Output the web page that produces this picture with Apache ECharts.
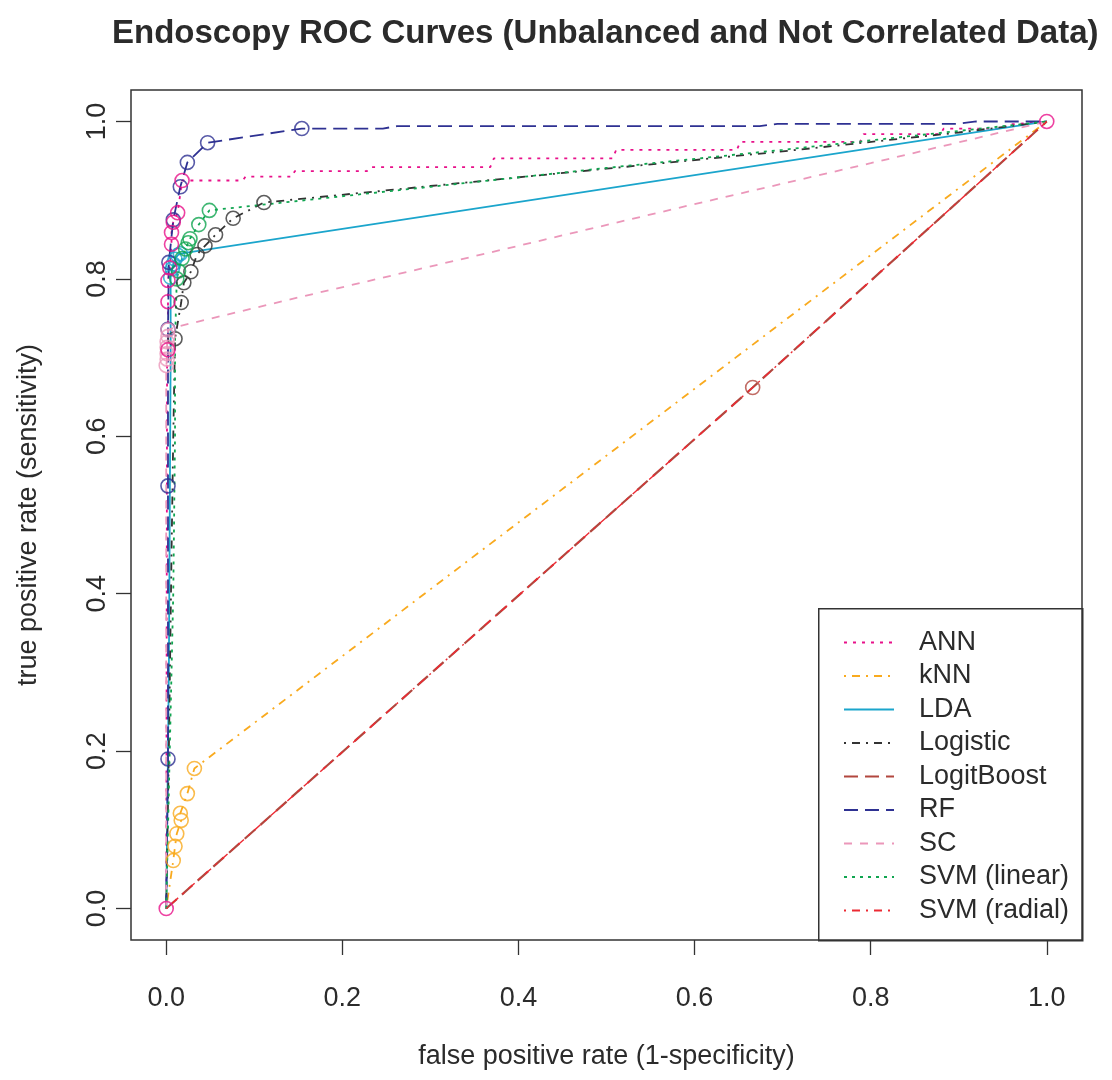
<!DOCTYPE html>
<html>
<head>
<meta charset="utf-8">
<script src="https://cdn.jsdelivr.net/npm/echarts@6/dist/echarts.min.js"></script>
<style>
html,body{margin:0;padding:0;background:#fff;}
#chart{width:1112px;height:1080px;}
</style>
</head>
<body>
<div id="chart"></div>
<script>
// ---------- data (false positive rate, true positive rate) ----------
const seriesNames = ['ANN','kNN','LDA','Logistic','LogitBoost','RF','SC','SVM (linear)','SVM (radial)'];
const tickValues = [0, 0.2, 0.4, 0.6, 0.8, 1.0];

const annCurve = [[0,0],[0.001,0.70],[0.002,0.710],[0.002,0.771],[0.002,0.798],[0.004,0.814],[0.006,0.844],[0.006,0.859],[0.008,0.872],[0.013,0.884],[0.018,0.925],[0.087,0.925],[0.090,0.930],[0.143,0.930],[0.146,0.937],[0.228,0.937],[0.232,0.942],[0.368,0.942],[0.372,0.953],[0.507,0.953],[0.511,0.964],[0.648,0.964],[0.652,0.974],[0.788,0.974],[0.792,0.984],[0.879,0.984],[0.883,0.991],[0.950,0.991],[0.955,0.996],[1,1]];
const annMarks = [[0,0],[0.002,0.710],[0.002,0.771],[0.002,0.798],[0.004,0.814],[0.006,0.844],[0.006,0.859],[0.008,0.872],[0.013,0.884],[0.018,0.925],[1,1]];

const knnCurve = [[0,0],[0.008,0.061],[0.010,0.079],[0.012,0.095],[0.017,0.112],[0.016,0.121],[0.024,0.146],[0.032,0.178],[1,1]];
const knnMarks = [[0.008,0.061],[0.010,0.079],[0.012,0.095],[0.017,0.112],[0.016,0.121],[0.024,0.146],[0.032,0.178]];

const ldaCurve = [[0,0],[0.003,0.30],[0.005,0.70],[0.005,0.802],[0.007,0.813],[0.008,0.819],[0.010,0.825],[0.013,0.830],[0.016,0.832],[1,1]];
const ldaMarks = [[0.005,0.802],[0.007,0.813],[0.008,0.819],[0.010,0.825],[0.013,0.830],[0.016,0.832]];

const logisticCurve = [[0,0],[0.003,0.20],[0.006,0.45],[0.008,0.60],[0.010,0.724],[0.017,0.770],[0.020,0.795],[0.028,0.809],[0.035,0.831],[0.044,0.842],[0.056,0.856],[0.076,0.877],[0.111,0.897],[0.30,0.918],[0.50,0.940],[0.70,0.962],[0.90,0.986],[1,1]];
const logisticMarks = [[0.010,0.724],[0.017,0.770],[0.020,0.795],[0.028,0.809],[0.035,0.831],[0.044,0.842],[0.056,0.856],[0.076,0.877],[0.111,0.897]];

const logitboostCurve = [[0,0],[0.666,0.662],[1,1]];
const logitboostMarks = [[0.666,0.662]];

const rfCurve = [[0,0],[0.002,0.19],[0.002,0.537],[0.002,0.736],[0.003,0.821],[0.008,0.875],[0.016,0.917],[0.024,0.948],[0.047,0.973],[0.154,0.991],[0.246,0.991],[0.262,0.994],[0.674,0.994],[0.694,0.997],[0.899,0.997],[0.920,1.0],[1,1]];
const rfMarks = [[0.002,0.19],[0.002,0.537],[0.002,0.736],[0.003,0.821],[0.008,0.875],[0.016,0.917],[0.024,0.948],[0.047,0.973],[0.154,0.991]];

const scCurve = [[0,0],[0.000,0.690],[0.001,0.698],[0.001,0.705],[0.001,0.713],[0.001,0.720],[0.002,0.727],[0.002,0.735],[0.011,0.739],[0.141,0.774],[0.40,0.842],[0.60,0.895],[0.80,0.947],[1,1]];
const scMarks = [[0.000,0.690],[0.001,0.698],[0.001,0.705],[0.001,0.713],[0.001,0.720],[0.002,0.727],[0.002,0.735]];

const svmLinCurve = [[0,0],[0.002,0.10],[0.008,0.40],[0.010,0.60],[0.010,0.72],[0.012,0.80],[0.014,0.810],[0.018,0.826],[0.022,0.838],[0.025,0.846],[0.027,0.851],[0.037,0.869],[0.049,0.887],[0.30,0.917],[0.50,0.941],[0.70,0.964],[0.90,0.988],[1,1]];
const svmLinMarks = [[0.012,0.80],[0.014,0.810],[0.018,0.826],[0.022,0.838],[0.025,0.846],[0.027,0.851],[0.037,0.869],[0.049,0.887]];

const svmRadCurve = [[0,0],[0.666,0.662],[1,1]];
const svmRadMarks = [];

// ---------- styles ----------
const colors = ['#E8118A','#F9AA1E','#1BA5CC','#333333','#B2473E','#2E3192','#EB97BA','#10A550','#EC2A33'];
const dashes = [[3,6],[2,6,8,6],'solid',[2,6,8,6],[14,7],[14,7],[8,8],[3,5],[2,6,8,6]];
const widths = [1.8,1.8,1.8,1.8,2.2,1.8,1.8,1.8,1.4];
const curves = [annCurve,knnCurve,ldaCurve,logisticCurve,logitboostCurve,rfCurve,scCurve,svmLinCurve,svmRadCurve];
const marks = [annMarks,knnMarks,ldaMarks,logisticMarks,logitboostMarks,rfMarks,scMarks,svmLinMarks,svmRadMarks];

const FONT = 'Liberation Sans';
const TXT = '#2b2b2b';

const series = [];
seriesNames.forEach((n,i)=>{
  series.push({
    name:n, type:'line', data:curves[i], showSymbol:false, symbol:'circle',
    lineStyle:{color:colors[i], width:widths[i], type:dashes[i]},
    itemStyle:{color:colors[i]},
    silent:true, animation:false, z:2
  });
});
// circle markers; ANN drawn last (on top)
const order = [1,2,3,4,5,6,7,8,0];
order.forEach(i=>{
  if(!marks[i].length) return;
  series.push({
    name:seriesNames[i], type:'scatter', data:marks[i], symbol:'circle', symbolSize:14,
    itemStyle:{color:'rgba(0,0,0,0)', borderColor:colors[i], borderWidth:1.6},
    silent:true, animation:false, z:3
  });
});

const chart = echarts.init(document.getElementById('chart'), null, {renderer:'canvas'});
chart.setOption({
  animation:false,
  backgroundColor:'#fff',
  title:{
    text:'Endoscopy ROC Curves (Unbalanced and Not Correlated Data)',
    left:107, top:12,
    textStyle:{fontFamily:FONT, fontSize:33, fontWeight:'bold', color:TXT}
  },
  grid:{left:131, right:30, top:90, bottom:140, show:true, borderColor:'#333', borderWidth:1.5, backgroundColor:'transparent', containLabel:false},
  xAxis:{
    type:'value', min:-0.04, max:1.04,
    name:'false positive rate (1-specificity)', nameLocation:'middle', nameGap:103,
    nameTextStyle:{fontFamily:FONT, fontSize:27, color:TXT},
    axisLine:{show:false, onZero:false},
    axisTick:{show:true, inside:false, length:15, customValues:tickValues, lineStyle:{color:'#333', width:1.3}},
    axisLabel:{customValues:tickValues, margin:45, fontFamily:FONT, fontSize:27, color:TXT, formatter:v=>v.toFixed(1)},
    splitLine:{show:false}
  },
  yAxis:{
    type:'value', min:-0.04, max:1.04,
    name:'true positive rate (sensitivity)', nameLocation:'middle', nameGap:89,
    nameTextStyle:{fontFamily:FONT, fontSize:27, color:TXT},
    axisLine:{show:false, onZero:false},
    axisTick:{show:true, inside:false, length:15, customValues:tickValues, lineStyle:{color:'#333', width:1.3}},
    axisLabel:{customValues:tickValues, rotate:90, margin:20, fontFamily:FONT, fontSize:27, color:TXT, formatter:v=>v.toFixed(1)},
    splitLine:{show:false}
  },
  legend:{
    data:seriesNames, orient:'vertical', left:843, top:629, padding:0,
    itemWidth:50, itemHeight:14, itemGap:6.5,
    itemStyle:{opacity:0},
    textStyle:{fontFamily:FONT, fontSize:27, lineHeight:27, color:TXT, padding:[0,0,0,20]},
    selectedMode:false
  },
  graphic:[{
    type:'rect', left:818, top:608, z:-1,
    shape:{width:264, height:332},
    style:{fill:'#fff', stroke:'#333', lineWidth:1.5}
  }],
  series:series
});
</script>
</body>
</html>
